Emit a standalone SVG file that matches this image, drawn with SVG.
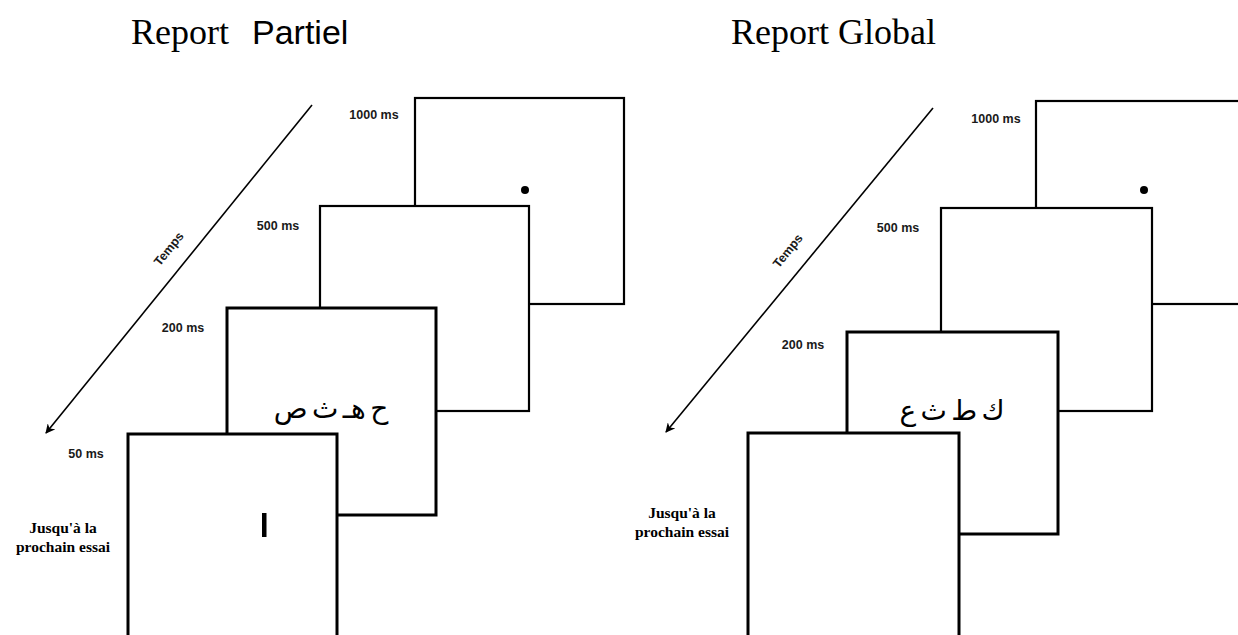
<svg xmlns="http://www.w3.org/2000/svg" width="1238" height="635" viewBox="0 0 1238 635">
<style>
.box{fill:#fff;stroke:#000;stroke-width:2.2}
.boxt{fill:#fff;stroke:#000;stroke-width:3}
.lbl{font-family:"Liberation Sans",Arial,sans-serif;font-size:12.5px;font-weight:bold;fill:#1a1a1a;text-anchor:middle}
.tmp{font-family:"Liberation Sans",Arial,sans-serif;font-size:12.5px;font-weight:bold;fill:#1a1a1a;text-anchor:middle}
.ser{font-family:"Liberation Serif","Times New Roman",serif;font-size:36px;fill:#000}
.san{font-family:"Liberation Sans",Arial,sans-serif;font-size:34px;fill:#000}
.jus{font-family:"Liberation Serif","Times New Roman",serif;font-size:15.5px;font-weight:bold;fill:#000;text-anchor:middle}
.ar{font-family:"DejaVu Sans",sans-serif;font-size:28px;word-spacing:-4.5px;fill:#000;text-anchor:middle}
.arr{stroke:#000;stroke-width:1.6;fill:none;marker-end:url(#ah)}
</style>
<defs>
<marker id="ah" viewBox="0 0 10 10" refX="9" refY="5" markerWidth="6" markerHeight="6" orient="auto" markerUnits="strokeWidth">
<path d="M0,0 L10,5 L0,10 L3,5 Z" fill="#000"/>
</marker>
</defs>
<rect width="1238" height="635" fill="#fff"/>

<g id="titles">
<text class="ser" x="131" y="44">Report</text>
<text class="san" x="252" y="44">Partiel</text>
<text class="ser" x="731" y="44">Report Global</text>
</g>

<g id="connectors">
<line class="arr" x1="312" y1="105" x2="46" y2="433"/>
<line class="arr" x1="933" y1="108" x2="666" y2="432"/>
</g>

<g id="left-panel">
<g id="L-frame-1000">
<rect class="box" x="415" y="98" width="209" height="206"/>
<circle cx="525" cy="190" r="4" fill="#000"/>
</g>
<g id="L-frame-500"><rect class="box" x="320" y="206" width="209" height="205"/></g>
<g id="L-frame-200">
<rect class="boxt" x="227" y="308" width="209" height="207"/>
<text class="ar" x="331" y="418" direction="rtl">ح هـ ث ص</text>
</g>
<g id="L-frame-50">
<rect class="boxt" x="128" y="434" width="209" height="220"/>
<rect x="262" y="513" width="4.5" height="24" fill="#000"/>
</g>
<text class="lbl" x="374" y="119">1000 ms</text>
<text class="lbl" x="278" y="230">500 ms</text>
<text class="lbl" x="183" y="332">200 ms</text>
<text class="lbl" x="86" y="458">50 ms</text>
<text class="tmp" transform="translate(169,249) rotate(-51)" y="4">Temps</text>
<text class="jus" x="63" y="533">Jusqu'à la</text>
<text class="jus" x="63" y="552">prochain essai</text>
</g>

<g id="right-panel">
<g id="R-frame-1000">
<rect class="box" x="1036" y="101" width="220" height="203"/>
<circle cx="1144" cy="190" r="4" fill="#000"/>
</g>
<g id="R-frame-500"><rect class="box" x="941" y="208" width="211" height="203"/></g>
<g id="R-frame-200">
<rect class="boxt" x="847" y="332" width="211" height="202"/>
<text class="ar" x="952" y="420" direction="rtl">ك ط ث ع</text>
</g>
<g id="R-frame-50"><rect class="boxt" x="748" y="433" width="211" height="220"/></g>
<text class="lbl" x="996" y="123">1000 ms</text>
<text class="lbl" x="898" y="232">500 ms</text>
<text class="lbl" x="803" y="349">200 ms</text>
<text class="tmp" transform="translate(788,251) rotate(-51)" y="4">Temps</text>
<text class="jus" x="682" y="518">Jusqu'à la</text>
<text class="jus" x="682" y="537">prochain essai</text>
</g>
</svg>
